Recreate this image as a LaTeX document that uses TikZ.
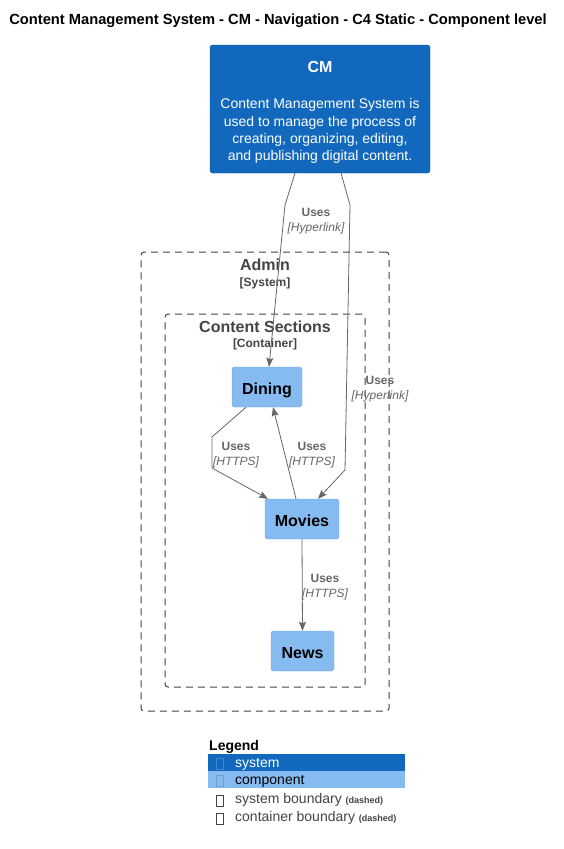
\documentclass[tikz,border=0pt]{standalone}
\usepackage{fontspec}
\setmainfont{Liberation Sans}
\usetikzlibrary{calc}
\usetikzlibrary{positioning}
\usetikzlibrary{arrows.meta}
\definecolor{sysblue}{HTML}{1168BD}
\definecolor{compblue}{HTML}{85BBF0}
\definecolor{bndgray}{HTML}{444444}
\definecolor{relgray}{HTML}{666666}
\newcommand{\fsz}[2]{\fontsize{#1}{#2}\selectfont}
\newcommand{\relnote}[2]{{\bfseries #1}\\{\itshape [#2]}}
\tikzstyle{sysnode} = [draw=sysblue!85!black, fill=sysblue, rounded corners=2.5pt, text=white, align=center, inner sep=0pt]
\tikzstyle{compnode} = [draw=compblue!90!black, fill=compblue, rounded corners=2.5pt, minimum height=40pt, inner sep=0pt, text height=14.6pt, text depth=0pt, font=\bfseries\fsz{16}{19}]
\tikzstyle{bndbox} = [draw=bndgray, line width=1pt, dash pattern=on 7pt off 5pt, rounded corners=3pt, inner sep=0pt]
\tikzstyle{bndtitle} = [text=bndgray, font=\bfseries\fsz{16}{19}, inner sep=0pt]
\tikzstyle{bndtag} = [text=bndgray, font=\bfseries\fsz{12}{14}, inner sep=0pt]
\tikzstyle{rel} = [draw=relgray, line width=0.8pt, -{Stealth[length=9pt, width=7pt, inset=1.5pt]}]
\tikzstyle{rellabel} = [text=relgray, align=center, font=\fsz{12}{15}, inner sep=0pt]
\tikzstyle{legbar} = [minimum width=197pt, minimum height=17pt, inner sep=0pt, anchor=north west]
\tikzstyle{legtext} = [font=\fsz{14}{16}, inner sep=0pt, anchor=west]
\tikzstyle{tofu} = [draw, line width=0.7pt, minimum width=7.5pt, minimum height=11pt, inner sep=0pt]

\begin{document}
\begin{tikzpicture}[x=1pt, y=-1pt]
  \useasboundingbox[fill=white] (0,0) rectangle (563,849);

  \node[font=\bfseries\fsz{14.7}{17}, inner sep=0pt] (title) at (278,20.5) {Content Management System - CM - Navigation - C4 Static - Component level};

  % system on top
  \node[sysnode, minimum width=220pt, minimum height=128pt, font=\fsz{14}{17.4}] (cm) at (320,109)
    {\rule{0pt}{18pt}{\bfseries\fsz{16}{19}CM}\\[19pt]Content Management System is\\used to manage the process of\\creating, organizing, editing,\\and publishing digital content.};

  % boundaries
  \node[bndbox, minimum width=248pt, minimum height=459pt] (admin) at (265,481.5) {};
  \node[bndtitle] (admin_t) at ($(admin.north)+(0,13.5)$) {Admin};
  \node[bndtag] (admin_k) at ($(admin.north)+(0,32)$) {[System]};

  \node[bndbox, minimum width=200pt, minimum height=373pt] (sections) at (265,500.5) {};
  \node[bndtitle] (sections_t) at ($(sections.north)+(0,13.5)$) {Content Sections};
  \node[bndtag] (sections_k) at ($(sections.north)+(0,31)$) {[Container]};

  % components
  \node[compnode, minimum width=70pt] (dining) at (267,387) {Dining};
  \node[compnode, minimum width=74pt] (movies) at (302,519) {Movies};
  \node[compnode, minimum width=63pt] (news) at (302.5,651) {News};

  % relations
  \draw[rel] ([xshift=-25pt]cm.south) -- (285,205) -- ([xshift=2pt]dining.north);
  \node[rellabel] (l_cm_dining) at (316,221.5) {\relnote{Uses}{Hyperlink}};

  \draw[rel] ([xshift=21pt]cm.south) -- (350,205) -- (345,470) -- ([xshift=16pt]movies.north);
  \node[rellabel] (l_cm_movies) at (380,389.5) {\relnote{Uses}{Hyperlink}};

  \draw[rel] ([xshift=-21pt]dining.south) -- (212,437) -- (212,468) -- ([xshift=-34pt]movies.north);
  \node[rellabel] (l_dining_movies) at (236,455.5) {\relnote{Uses}{HTTPS}};

  \draw[rel] ([xshift=-6pt]movies.north) -- ([xshift=6pt]dining.south);
  \node[rellabel] (l_movies_dining) at (312,455.5) {\relnote{Uses}{HTTPS}};

  \draw[rel] (movies.south) -- (news.north);
  \node[rellabel] (l_movies_news) at (325,587.5) {\relnote{Uses}{HTTPS}};

  % legend
  \node[font=\bfseries\fsz{14}{16}, inner sep=0pt, anchor=west] (legend) at (209,747) {Legend};
  \node[legbar, fill=sysblue] (bar_sys) at (208,754) {};
  \node[legbar, fill=compblue] (bar_comp) at (208,771) {};
  \node[tofu, draw=sysblue!80!white] (t_sys) at (220,763.5) {};
  \node[tofu, draw=compblue!85!black] (t_comp) at (220,780.5) {};
  \node[tofu, draw=bndgray] (t_sbnd) at (220,800.5) {};
  \node[tofu, draw=bndgray] (t_cbnd) at (220,818.5) {};
  \node[legtext, text=white] (x_sys) at (235,764.5) {system};
  \node[legtext, text=black] (x_comp) at (235,781.5) {component};
  \node[legtext, text=bndgray] (x_sbnd) at (235,799.5) {system boundary {\bfseries\fsz{9}{10}(dashed)}};
  \node[legtext, text=bndgray] (x_cbnd) at (235,817.5) {container boundary {\bfseries\fsz{9}{10}(dashed)}};
\end{tikzpicture}
\end{document}
